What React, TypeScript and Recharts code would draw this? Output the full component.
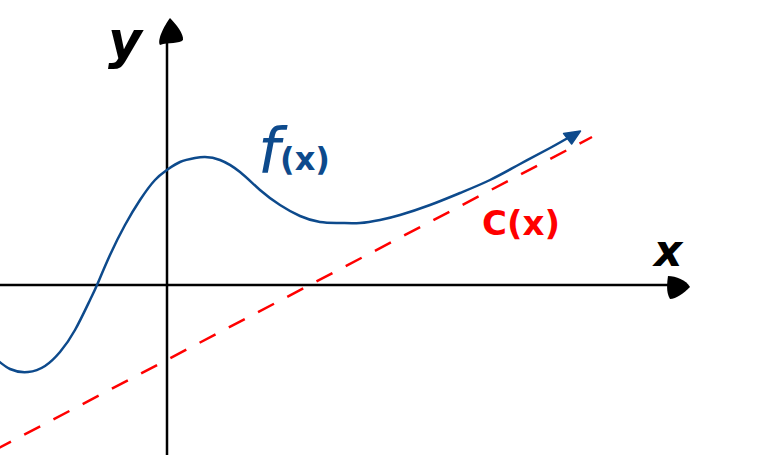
import React from "react";
import { LineChart, Line, XAxis, YAxis, ReferenceLine, ReferenceDot } from "recharts";

// f(x) curve sample points (units: origin at the axes crossing)
const fX = [-1.72, -1.57, -1.39, -1.22, -1.07, -0.92, -0.77, -0.7, -0.57, -0.42, -0.27, -0.12, 0, 0.13, 0.28, 0.38, 0.53, 0.73, 0.93, 1.13, 1.33, 1.53, 1.73, 1.93, 2.13, 2.33, 2.63, 2.93, 3.23, 3.53, 3.83, 4.06];
const fY = [-0.73, -0.84, -0.87, -0.81, -0.67, -0.45, -0.15, 0, 0.3, 0.6, 0.85, 1.05, 1.15, 1.23, 1.27, 1.28, 1.25, 1.13, 0.95, 0.8, 0.69, 0.63, 0.62, 0.62, 0.65, 0.7, 0.8, 0.92, 1.05, 1.21, 1.37, 1.5];
// C(x) straight line endpoints
const cX = [-1.72, 4.25];
const cY = [-1.65, 1.48];

const X_DOMAIN: [number, number] = [-1.67, 6.01];
const Y_DOMAIN: [number, number] = [-1.7, 2.85];

const fData = fX.map((x, i) => ({ x, y: fY[i] }));
const cData = cX.map((x, i) => ({ x, y: cY[i] }));

const BLUE = "#0d4a8c";
const RED = "#ff0000";

const YArrow = (p: any) => {
  const { cx, cy } = p;
  return (
    <path
      d={`M ${cx} ${cy} C ${cx + 6} ${cy + 6} ${cx + 14} ${cy + 16} ${cx + 13} ${cy + 22} C ${cx + 10} ${cy + 26} ${cx - 2} ${cy + 24} ${cx - 10} ${cy + 27} C ${cx - 13} ${cy + 22} ${cx - 6} ${cy + 8} ${cx} ${cy} Z`}
      fill="#000"
    />
  );
};

const XArrow = (p: any) => {
  const { cx, cy } = p;
  return (
    <path
      d={`M ${cx} ${cy} C ${cx - 6} ${cy + 6} ${cx - 14} ${cy + 12} ${cx - 20} ${cy + 12} C ${cx - 24} ${cy + 6} ${cx - 23} ${cy - 4} ${cx - 22} ${cy - 11} C ${cx - 14} ${cy - 11} ${cx - 4} ${cy - 7} ${cx} ${cy} Z`}
      fill="#000"
    />
  );
};

const FArrow = (p: any) => {
  const { cx, cy } = p;
  return (
    <g transform={`translate(${cx},${cy}) rotate(-29)`}>
      <path d="M 4 0 L -12 -6 L -10 7 Z" fill={BLUE} stroke={BLUE} strokeWidth={1.5} strokeLinejoin="round" />
    </g>
  );
};

export default function App() {
  return (
    <div style={{ position: "absolute", left: 0, top: 0, width: 768, height: 455, background: "#fff" }}>
      <LineChart width={768} height={455} margin={{ top: 0, right: 0, bottom: 0, left: 0 }}>
        <XAxis type="number" dataKey="x" domain={X_DOMAIN} hide allowDataOverflow />
        <YAxis type="number" dataKey="y" domain={Y_DOMAIN} hide allowDataOverflow />
        <ReferenceLine segment={[{ x: 0, y: -1.7 }, { x: 0, y: 2.5 }]} stroke="#000" strokeWidth={2.5} />
        <ReferenceLine segment={[{ x: -1.67, y: 0 }, { x: 5.03, y: 0 }]} stroke="#000" strokeWidth={2.5} />
        <ReferenceDot x={0.03} y={2.67} r={0} shape={YArrow} ifOverflow="visible" />
        <ReferenceDot x={5.23} y={-0.02} r={0} shape={XArrow} ifOverflow="visible" />
        <Line data={cData} dataKey="y" type="linear" stroke={RED} strokeWidth={2.5} strokeDasharray="18 15" dot={false} isAnimationActive={false} />
        <Line data={fData} dataKey="y" type="natural" stroke={BLUE} strokeWidth={2.5} dot={false} isAnimationActive={false} />
        <ReferenceDot x={4.1} y={1.52} r={0} shape={FArrow} ifOverflow="visible" />
      </LineChart>
      <svg width={768} height={455} style={{ position: "absolute", left: 0, top: 0, pointerEvents: "none" }}>
        <text x={108} y={58} fontFamily="DejaVu Sans" fontStyle="italic" fontWeight="bold" fontSize={52} fill="#000">y</text>
        <text x={654} y={266} fontFamily="DejaVu Sans" fontStyle="italic" fontWeight="bold" fontSize={44} fill="#000">x</text>
        <text x={258} y={172} fontFamily="DejaVu Sans" fontStyle="italic" fontSize={62} fill={BLUE}>f</text>
        <text x={280} y={170} fontFamily="DejaVu Sans" fontWeight="bold" fontSize={32} fill={BLUE}>(x)</text>
        <text x={482} y={235} fontFamily="DejaVu Sans" fontWeight="bold" fontSize={34} fill={RED}>C(x)</text>
      </svg>
    </div>
  );
}
